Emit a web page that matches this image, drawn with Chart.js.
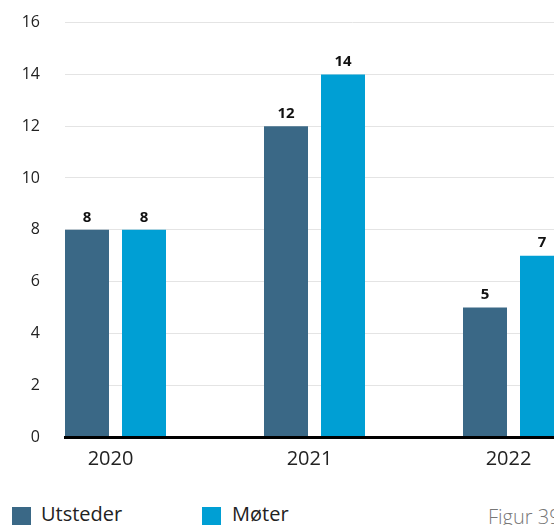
<!DOCTYPE html>
<html>
<head>
<meta charset="utf-8">
<script src="https://cdn.jsdelivr.net/npm/chart.js@4"></script>
<style>
  html, body { margin: 0; padding: 0; background: #fff; overflow: hidden; width: 554px; height: 525px; }
  #wrap { position: absolute; left: 0; top: -12px; width: 640px; height: 492px; }
  .leg { position: absolute; font-family: "Open Sans", sans-serif; font-size: 20px; line-height: 20px; color: #222; white-space: nowrap; }
  .sw { position: absolute; width: 19px; height: 19px; }
  #fig { position: absolute; left: 488px; top: 507px; font-family: "Open Sans", sans-serif; font-size: 20px; line-height: 20px; color: #777; font-weight: 300; white-space: nowrap; }
</style>
</head>
<body>
<div id="wrap"><canvas id="c" width="640" height="492"></canvas></div>
<div class="sw" id="sw1" style="left:12px; top:507px;"></div>
<div class="leg" id="lt1" style="left:41px; top:504px;"></div>
<div class="sw" id="sw2" style="left:202px; top:507px;"></div>
<div class="leg" id="lt2" style="left:232px; top:504px;"></div>
<div id="fig">Figur 39</div>
<script>
const years = ['2020', '2021', '2022'];
const seriesNames = ['Utsteder', 'Møter'];
const utsteder = [8, 12, 5];
const moter = [8, 14, 7];
const yTicks = [0, 2, 4, 6, 8, 10, 12, 14, 16];

const colors = ['#3a6886', '#009fd4'];
const FONT = '"Open Sans", sans-serif';

document.getElementById('sw1').style.background = colors[0];
document.getElementById('sw2').style.background = colors[1];
document.getElementById('lt1').textContent = seriesNames[0];
document.getElementById('lt2').textContent = seriesNames[1];

const toPoints = arr => years.map((y, i) => ({ x: Number(y), y: arr[i] }));

const valueLabels = {
  id: 'valueLabels',
  afterDatasetsDraw(chart) {
    const ctx = chart.ctx;
    ctx.save();
    ctx.font = 'bold 15px ' + FONT;
    ctx.fillStyle = '#111';
    ctx.textAlign = 'center';
    ctx.textBaseline = 'bottom';
    chart.data.datasets.forEach((ds, di) => {
      const meta = chart.getDatasetMeta(di);
      meta.data.forEach((bar, i) => {
        ctx.fillText(String(ds.data[i].y), bar.x, bar.y - 5);
      });
    });
    ctx.restore();
  }
};

// group of 2020 begins at the left edge of the plot area
const xMin = 2020 - 50.5 / 199;
const xMax = xMin + (640 - 65) / 199;

new Chart(document.getElementById('c'), {
  type: 'bar',
  data: {
    datasets: [
      { label: seriesNames[0], data: toPoints(utsteder), backgroundColor: colors[0], borderWidth: 0 },
      { label: seriesNames[1], data: toPoints(moter), backgroundColor: colors[1], borderWidth: 0 }
    ]
  },
  options: {
    responsive: false,
    animation: false,
    devicePixelRatio: 1,
    layout: { padding: { top: 10, left: 0, right: 0, bottom: 0 } },
    categoryPercentage: 114 / 199,
    barPercentage: 44 / 57,
    plugins: { legend: { display: false }, tooltip: { enabled: false } },
    scales: {
      x: {
        type: 'linear',
        min: xMin,
        max: xMax,
        offset: false,
        grid: { display: false, drawTicks: false },
        border: { display: true, color: '#000', width: 3, z: 1 },
        afterFit(s) { s.height = 43; },
        ticks: {
          stepSize: 1,
          includeBounds: false,
          autoSkip: false,
          maxRotation: 0,
          padding: 10,
          labelOffset: -5,
          color: '#222',
          font: { family: FONT, size: 20 },
          callback: v => years.includes(String(v)) ? String(v) : null
        }
      },
      y: {
        min: 0,
        max: 16,
        afterFit(s) { s.width = 65; },
        afterBuildTicks(s) { s.ticks = yTicks.map(v => ({ value: v })); },
        grid: { color: '#e4e4e4', lineWidth: 1, drawTicks: false },
        border: { display: false },
        ticks: {
          padding: 25,
          color: '#222',
          font: { family: FONT, size: 16 }
        }
      }
    }
  },
  plugins: [valueLabels]
});
</script>
</body>
</html>
